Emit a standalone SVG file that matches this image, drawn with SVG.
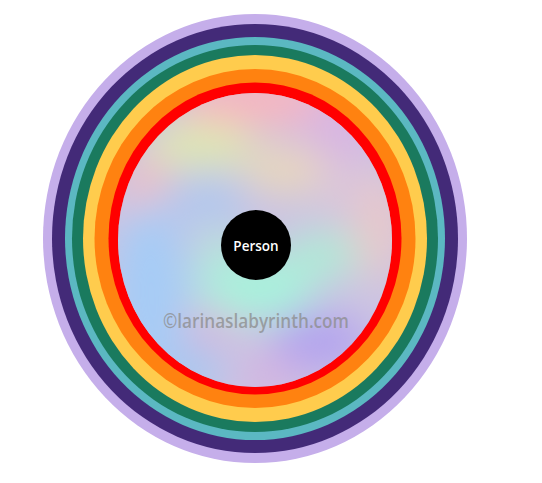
<svg xmlns="http://www.w3.org/2000/svg" width="542" height="483" viewBox="0 0 542 483">
<style>
.lbl{font-family:"Open Sans","Liberation Sans",sans-serif;font-weight:600;}
</style>
<defs>
<clipPath id="inner"><ellipse cx="255" cy="240" rx="137" ry="147"/></clipPath>
<filter id="blur" x="-50%" y="-50%" width="200%" height="200%"><feGaussianBlur stdDeviation="19"/></filter>
</defs>
<rect width="542" height="483" fill="#ffffff"/>
<g id="rings">
<ellipse cx="255" cy="238.5" rx="212" ry="224.5" fill="#C5AEEA"/>
<ellipse cx="255" cy="238.5" rx="203" ry="214.5" fill="#432A78"/>
<ellipse cx="255" cy="238.5" rx="190" ry="201.5" fill="#5BB8C2"/>
<ellipse cx="255" cy="238.5" rx="183" ry="193.5" fill="#1A7A5E"/>
<ellipse cx="255" cy="238.5" rx="172" ry="183.5" fill="#FFCC4D"/>
<ellipse cx="255" cy="238.5" rx="160.5" ry="169.5" fill="#FF8210"/>
<ellipse cx="255" cy="238.5" rx="146.5" ry="156" fill="#FF0000"/>
</g>
<g id="interior" clip-path="url(#inner)">
<rect x="110" y="85" width="290" height="310" fill="#CCC4E2"/>
<g filter="url(#blur)">
<ellipse cx="260" cy="100" rx="85" ry="28" fill="#F6B6C0"/>
<ellipse cx="340" cy="130" rx="40" ry="35" fill="#D8B6E2"/>
<ellipse cx="200" cy="145" rx="55" ry="24" fill="#DEE8B2"/>
<ellipse cx="285" cy="170" rx="45" ry="22" fill="#EAD8BA"/>
<ellipse cx="148" cy="185" rx="25" ry="30" fill="#ECBFC8"/>
<ellipse cx="205" cy="200" rx="45" ry="20" fill="#ADC8F0"/>
<ellipse cx="378" cy="225" rx="25" ry="55" fill="#E8C8CA"/>
<ellipse cx="340" cy="190" rx="25" ry="30" fill="#DAC6DA"/>
<ellipse cx="150" cy="290" rx="38" ry="85" fill="#A6CCF6"/>
<ellipse cx="190" cy="370" rx="35" ry="25" fill="#A8C8F0"/>
<ellipse cx="255" cy="288" rx="60" ry="32" fill="#A8F2DC"/>
<ellipse cx="322" cy="255" rx="38" ry="24" fill="#B0EAD6"/>
<ellipse cx="220" cy="255" rx="22" ry="25" fill="#B2E8DA"/>
<ellipse cx="210" cy="328" rx="25" ry="20" fill="#D8B6DC"/>
<ellipse cx="320" cy="342" rx="48" ry="30" fill="#B4A4EE"/>
<ellipse cx="270" cy="378" rx="35" ry="20" fill="#D4B4E0"/>
</g>
</g>
<g id="person">
<circle cx="256" cy="245" r="35" fill="#000000"/>
<text class="lbl" x="256" y="251" font-size="13.5" fill="#ffffff" text-anchor="middle">Person</text>
</g>
<text class="lbl" x="163" y="328" font-size="19" fill="#8C8C8C" fill-opacity="0.75" textLength="186" lengthAdjust="spacingAndGlyphs">©larinaslabyrinth.com</text>
</svg>
